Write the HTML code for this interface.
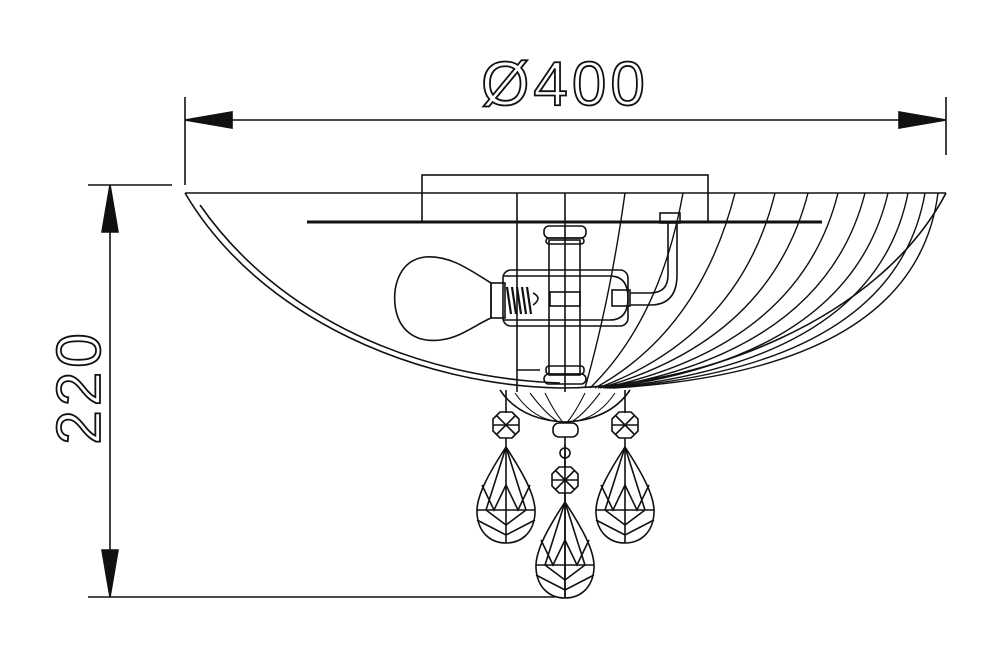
<!DOCTYPE html>
<html><head><meta charset="utf-8"><style>html,body{margin:0;padding:0;background:#fff}svg{display:block}</style></head><body>
<svg width="997" height="660" viewBox="0 0 997 660" xmlns="http://www.w3.org/2000/svg" fill="none" stroke="#111" stroke-width="1.6">
<defs>
<g id="c">
<line x1="0" y1="-35" x2="0" y2="-12"/>
<polygon points="-6,-13 6,-13 13,-6 13,6 6,13 -6,13 -13,6 -13,-6"/>
<line x1="-13" y1="0" x2="13" y2="0"/><line x1="-9" y1="-9" x2="9" y2="9"/><line x1="9" y1="-9" x2="-9" y2="9"/>
<line x1="0" y1="13" x2="0" y2="118"/>
<path d="M0,22 C15,45 30,70 29,88 C28,108 15,118 0,118 C-15,118 -28,108 -29,88 C-30,70 -15,45 0,22 Z"/>
<line x1="-29" y1="85" x2="29" y2="85"/>
<path d="M0,22 L-12,60 L-20,85 M0,22 L12,60 L20,85 M-24,60 L-12,85 L0,60 L12,85 L24,60 M-29,95 L0,110 L29,95 M-20,85 L0,100 L20,85"/>
</g>
</defs>
<!-- dimension top -->
<line x1="185" y1="97" x2="185" y2="185"/>
<line x1="946" y1="97" x2="946" y2="155"/>
<line x1="185" y1="120" x2="946" y2="120"/>
<polygon points="185,120 232,112 232,128" fill="#111"/>
<polygon points="946,120 899,112 899,128" fill="#111"/>
<text x="565" y="105" font-family="Liberation Sans, sans-serif" font-size="62" text-anchor="middle" fill="#fff" stroke="#111" stroke-width="1.8" letter-spacing="4">Ø400</text>
<!-- dimension left -->
<line x1="88" y1="185" x2="172" y2="185"/>
<line x1="88" y1="597" x2="555" y2="597"/>
<line x1="110" y1="185" x2="110" y2="597"/>
<polygon points="110,185 102,232 118,232" fill="#111"/>
<polygon points="110,597 102,550 118,550" fill="#111"/>
<text transform="translate(100,387) rotate(-90)" font-family="Liberation Sans, sans-serif" font-size="62" text-anchor="middle" fill="#fff" stroke="#111" stroke-width="1.8" letter-spacing="4">220</text>
<!-- canopy -->
<rect x="422" y="175" width="286" height="47"/>
<line x1="307" y1="222" x2="822" y2="222" stroke-width="3"/>
<!-- bowl -->
<line x1="185" y1="193" x2="946" y2="193"/>
<path d="M185,193 C260,320 420,385 560,388 C700,388 880,320 946,193"/>
<path d="M200,205 C280,320 420,378 560,383"/>
<g stroke-width="1.4">
<path d="M625,193 Q610,300 585,388"/>
<path d="M683,193 Q660,320 590,388"/>
<path d="M735,193 Q700,330 595,388"/>
<path d="M775,193 Q740,335 598,388"/>
<path d="M808,193 Q770,340 600,388"/>
<path d="M838,193 Q800,345 603,388"/>
<path d="M865,193 Q825,350 605,388"/>
<path d="M888,193 Q850,355 607,388"/>
<path d="M908,193 Q875,360 609,388"/>
<path d="M925,193 Q895,365 611,388"/>
<path d="M938,193 Q915,370 613,388"/>
</g>
<line x1="517" y1="193" x2="517" y2="392"/>
<line x1="565" y1="193" x2="565" y2="392"/>
<line x1="517" y1="370" x2="540" y2="370"/>
<rect x="549" y="240" width="31" height="135"/>
<rect x="544" y="226" width="42" height="12" rx="5"/>
<rect x="546" y="238" width="38" height="6" rx="3"/>
<rect x="546" y="366" width="38" height="8" rx="3"/>
<rect x="544" y="374" width="42" height="10" rx="5"/>
<path d="M491,283 C470,270 450,255 425,257 C400,260 393,285 395,305 C398,330 415,343 440,340 C460,338 475,325 491,318 Z"/>
<rect x="491" y="283" width="14" height="35"/>
<g stroke-width="2.2"><line x1="507" y1="287" x2="511" y2="314"/><line x1="512" y1="287" x2="516" y2="314"/><line x1="517" y1="287" x2="521" y2="314"/><line x1="522" y1="287" x2="526" y2="314"/><line x1="527" y1="287" x2="531" y2="314"/></g>
<path d="M533,293 Q543,298 533,305"/>
<rect x="503" y="270" width="125" height="56" rx="8"/>
<path d="M503,276 L610,276 Q628,276 628,298 Q628,320 610,320 L503,320"/>
<rect x="550" y="292" width="30" height="14"/>
<rect x="612" y="290" width="18" height="16"/>
<path d="M630,293 L650,293 Q668,293 668,275 L668,222 M630,305 L650,305 Q677,305 677,275 L677,222"/>
<rect x="660" y="213" width="20" height="10"/>
<path d="M500,390 Q520,420 565,422 Q610,420 630,390"/>
<g stroke-width="1.1"><path d="M515,393 Q530,415 550,420"/><path d="M530,393 Q545,413 557,421"/><path d="M545,393 Q555,413 562,421"/><path d="M585,393 Q575,413 568,421"/><path d="M600,393 Q585,413 573,421"/><path d="M615,393 Q600,415 580,420"/></g>
<rect x="553" y="423" width="25" height="14" rx="6"/>
<line x1="565" y1="437" x2="565" y2="597"/>
<circle cx="565" cy="453" r="5"/>
<use href="#c" transform="translate(506,425)"/>
<use href="#c" transform="translate(625,425)"/>
<use href="#c" transform="translate(565,480)"/>
</svg>
</body></html>
